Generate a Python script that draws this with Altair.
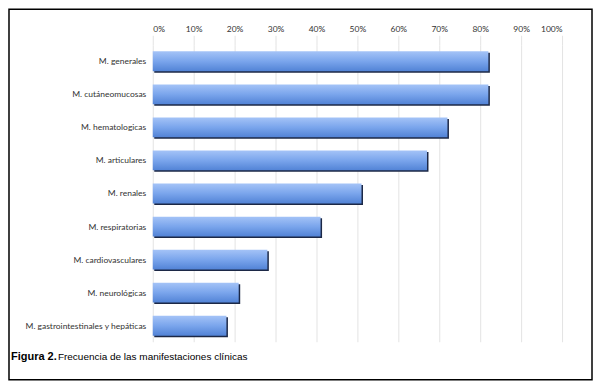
import altair as alt
import pandas as pd

categories = [
    "M. generales",
    "M. cutáneomucosas",
    "M. hematologicas",
    "M. articulares",
    "M. renales",
    "M. respiratorias",
    "M. cardiovasculares",
    "M. neurológicas",
    "M. gastrointestinales y hepáticas",
]
values = [0.82, 0.82, 0.72, 0.67, 0.51, 0.41, 0.28, 0.21, 0.18]
tick_values = [0, 0.1, 0.2, 0.3, 0.4, 0.5, 0.6, 0.7, 0.8, 0.9, 1.0]
caption_bold = "Figura 2."
caption_rest = "Frecuencia de las manifestaciones clínicas"

df = pd.DataFrame({"cat": categories, "val": values})

W, H = 410, 297
PL, PT, PR, PB = 145, 37, 32, 40

x_scale = alt.Scale(domain=[0, 1], nice=False)
y_scale = alt.Scale(domain=categories, paddingInner=0.4, paddingOuter=0.185)

x_axis = alt.Axis(
    orient="top", values=tick_values, format=".0%", title=None,
    labelFont="Lato", labelFontSize=8.5, labelColor="#333333", labelPadding=2,
    tickSize=10, tickColor="#e3e3e3", domain=False,
    grid=True, gridColor="#e3e3e3", gridWidth=1,
)
y_axis = alt.Axis(
    title=None, labelFont="Lato", labelFontSize=8.5, labelColor="#333333",
    labelPadding=7, ticks=False, domain=False, labelLimit=200,
)

base = alt.Chart(df)

shadow = base.mark_bar(color="#1c2846", xOffset=1.5, yOffset=1.5).encode(
    x=alt.X("val:Q", scale=x_scale, axis=x_axis),
    y=alt.Y("cat:N", scale=y_scale, axis=y_axis, sort=categories),
)

bars = base.mark_bar(
    color=alt.Gradient(
        gradient="linear",
        stops=[
            alt.GradientStop(color="#a4c3f7", offset=0),
            alt.GradientStop(color="#7aa5ec", offset=0.5),
            alt.GradientStop(color="#5283d6", offset=1),
        ],
        x1=0, x2=0, y1=0, y2=1,
    )
).encode(
    x=alt.X("val:Q", scale=x_scale, axis=x_axis),
    y=alt.Y("cat:N", scale=y_scale, axis=y_axis, sort=categories),
)

frame = alt.Chart(pd.DataFrame({"a": [0]})).mark_rect(
    fill=None, stroke="#000000", strokeWidth=1.5
).encode(
    x=alt.value(-PL + 1), x2=alt.value(W + PR - 2),
    y=alt.value(-PT + 1), y2=alt.value(H + PB - 2),
)

cap1 = alt.Chart(pd.DataFrame({"t": [caption_bold]})).mark_text(
    align="left", baseline="middle", font="Liberation Sans", fontSize=11,
    fontWeight="bold", color="#000000"
).encode(text="t:N", x=alt.value(-PL + 3), y=alt.value(H + 15))

cap2 = alt.Chart(pd.DataFrame({"t": [caption_rest]})).mark_text(
    align="left", baseline="middle", font="Liberation Sans", fontSize=10,
    color="#000000"
).encode(text="t:N", x=alt.value(-PL + 50), y=alt.value(H + 15))

chart = alt.layer(shadow, bars, frame, cap1, cap2).properties(
    width=W, height=H,
    autosize=alt.AutoSizeParams(type="none"),
    padding={"left": PL, "top": PT, "right": PR, "bottom": PB},
    background="white",
).configure_view(stroke=None)

chart.save("out.html", embed_options={"renderer": "svg", "actions": False})
